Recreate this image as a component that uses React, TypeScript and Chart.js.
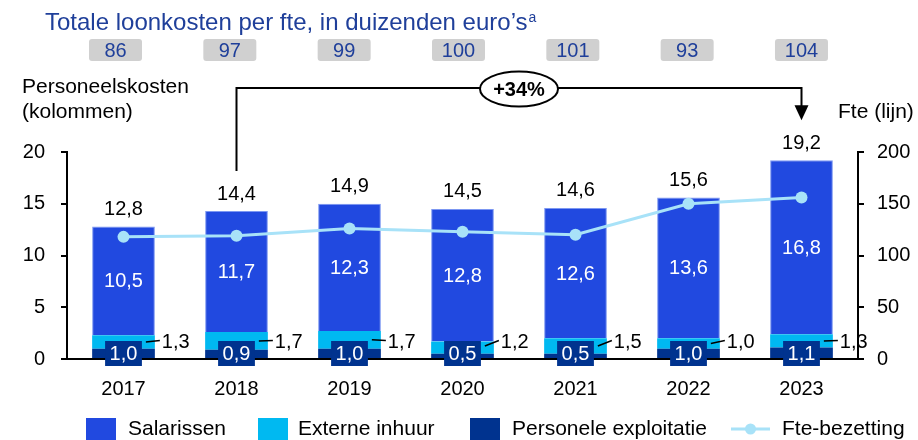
import React, { useEffect, useRef } from 'react';
import { Chart, registerables } from 'chart.js';

Chart.register(...registerables);

// ---------- data ----------
const years = ['2017', '2018', '2019', '2020', '2021', '2022', '2023'];
const salarissen = [10.5, 11.7, 12.3, 12.8, 12.6, 13.6, 16.8];
const externeInhuur = [1.3, 1.7, 1.7, 1.2, 1.5, 1.0, 1.3];
const personeleExploitatie = [1.0, 0.9, 1.0, 0.5, 0.5, 1.0, 1.1];
const totalen = [12.8, 14.4, 14.9, 14.5, 14.6, 15.6, 19.2];
const fteBezetting = [118, 119, 126, 123, 120, 150, 156];
const loonkostenPerFte = [86, 97, 99, 100, 101, 93, 104];
const leftTicks = [0, 5, 10, 15, 20];
const rightTicks = [0, 50, 100, 150, 200];
const groeiLabel = '+34%';
const titleText = 'Totale loonkosten per fte, in duizenden euro’s';
const titleSup = 'a';
const leftAxisTitle = ['Personeelskosten', '(kolommen)'];
const rightAxisTitle = 'Fte (lijn)';

// ---------- styles ----------
const FONT = '"Liberation Sans", Arial, Helvetica, sans-serif';
const C_SAL = '#2149E0';
const C_SAL_BORDER = '#7C97F2';
const C_EXT = '#00B9F1';
const C_PERS = '#00338F';
const C_FTE = '#A8E2F8';
const C_TITLE = '#1F3F9A';
const C_GREY = '#D0D0D0';

const fmt = (v: number) => v.toFixed(1).replace('.', ',');

const overlayPlugin = {
  id: 'overlay',
  afterDraw(chart: any) {
    const ctx: CanvasRenderingContext2D = chart.ctx;
    const ds = chart.data.datasets;
    const idx = (label: string) => ds.findIndex((d: any) => d.label === label);
    const salMeta = chart.getDatasetMeta(idx('Salarissen'));
    const extMeta = chart.getDatasetMeta(idx('Externe inhuur'));
    const persMeta = chart.getDatasetMeta(idx('Personele exploitatie'));

    ctx.save();

    // title
    ctx.textAlign = 'left';
    ctx.textBaseline = 'alphabetic';
    ctx.fillStyle = C_TITLE;
    ctx.font = `24px ${FONT}`;
    ctx.fillText(titleText, 45, 30);
    const tw = ctx.measureText(titleText).width;
    ctx.font = `14px ${FONT}`;
    ctx.fillText(titleSup, 45 + tw + 1, 22);

    // grey boxes with loonkosten per fte
    ctx.font = `20px ${FONT}`;
    ctx.textAlign = 'center';
    ctx.textBaseline = 'middle';
    loonkostenPerFte.forEach((v, i) => {
      const el = salMeta.data[i];
      const x = el.x - 8 + i * 1.33;
      ctx.fillStyle = C_GREY;
      ctx.beginPath();
      (ctx as any).roundRect(x - 26.5, 39, 53, 22, 3);
      ctx.fill();
      ctx.fillStyle = C_TITLE;
      ctx.fillText(String(v), x, 51);
    });

    // axis titles
    ctx.fillStyle = '#000';
    ctx.font = `21px ${FONT}`;
    ctx.textAlign = 'left';
    ctx.textBaseline = 'alphabetic';
    ctx.fillText(leftAxisTitle[0], 22, 92.5);
    ctx.fillText(leftAxisTitle[1], 22, 118);
    ctx.fillText(rightAxisTitle, 838, 118);

    // bracket 2018 -> 2023
    const a = salMeta.data[1];
    const b = salMeta.data[6];
    const yTop = 88;
    const tipY = b.y - 40;
    ctx.strokeStyle = '#000';
    ctx.lineWidth = 2;
    ctx.beginPath();
    ctx.moveTo(a.x, a.y - 40);
    ctx.lineTo(a.x, yTop);
    ctx.lineTo(b.x, yTop);
    ctx.lineTo(b.x, tipY - 14);
    ctx.stroke();
    ctx.fillStyle = '#000';
    ctx.beginPath();
    ctx.moveTo(b.x - 7, tipY - 15);
    ctx.lineTo(b.x + 7, tipY - 15);
    ctx.lineTo(b.x, tipY);
    ctx.closePath();
    ctx.fill();
    const ex = (a.x + b.x) / 2;
    ctx.beginPath();
    ctx.ellipse(ex, yTop + 1, 39, 17.5, 0, 0, Math.PI * 2);
    ctx.fillStyle = '#fff';
    ctx.fill();
    ctx.stroke();
    ctx.fillStyle = '#000';
    ctx.font = `bold 20px ${FONT}`;
    ctx.textAlign = 'center';
    ctx.textBaseline = 'middle';
    ctx.fillText(groeiLabel, ex, yTop + 2);

    // totals above bars
    ctx.font = `20px ${FONT}`;
    totalen.forEach((v, i) => {
      const el = salMeta.data[i];
      ctx.fillStyle = '#000';
      ctx.fillText(fmt(v), el.x, el.y - 17);
    });

    // salarissen values inside
    salarissen.forEach((v, i) => {
      const el = salMeta.data[i];
      ctx.fillStyle = '#fff';
      ctx.fillText(fmt(v), el.x, (el.y + el.base) / 2 + 1);
    });

    // externe inhuur labels to the right with leader
    externeInhuur.forEach((v, i) => {
      const el = extMeta.data[i];
      const right = el.x + el.width / 2;
      const midY = (el.y + el.base) / 2;
      ctx.strokeStyle = '#000';
      ctx.lineWidth = 1.5;
      ctx.beginPath();
      ctx.moveTo(right - 9, Math.min(midY, 346));
      ctx.lineTo(right + 5, 340.5);
      ctx.stroke();
      ctx.fillStyle = '#000';
      ctx.textAlign = 'left';
      ctx.fillText(fmt(v), right + 7, 342);
    });

    // personele exploitatie boxed labels
    ctx.textAlign = 'center';
    personeleExploitatie.forEach((v, i) => {
      const el = persMeta.data[i];
      const t = fmt(v);
      const w = ctx.measureText(t).width + 9;
      const cy = el.base - 4.5;
      ctx.fillStyle = C_PERS;
      ctx.fillRect(el.x - w / 2, cy - 12.5, w, 25);
      ctx.fillStyle = '#fff';
      ctx.fillText(t, el.x, cy + 1);
    });

    // legend
    ctx.font = `21px ${FONT}`;
    ctx.textAlign = 'left';
    ctx.textBaseline = 'middle';
    const legendY = 429;
    const boxes = [
      { label: 'Salarissen', color: C_SAL, x: 86, tx: 128 },
      { label: 'Externe inhuur', color: C_EXT, x: 258, tx: 298 },
      { label: 'Personele exploitatie', color: C_PERS, x: 470, tx: 512 },
    ];
    boxes.forEach((bx) => {
      ctx.fillStyle = bx.color;
      ctx.fillRect(bx.x, 418, 30, 30);
      ctx.fillStyle = '#000';
      ctx.fillText(bx.label, bx.tx, legendY);
    });
    ctx.strokeStyle = C_FTE;
    ctx.lineWidth = 3;
    ctx.beginPath();
    ctx.moveTo(731, legendY);
    ctx.lineTo(770, legendY);
    ctx.stroke();
    ctx.fillStyle = C_FTE;
    ctx.beginPath();
    ctx.arc(750.5, legendY, 5.5, 0, Math.PI * 2);
    ctx.fill();
    ctx.fillStyle = '#000';
    ctx.fillText('Fte-bezetting', 782, legendY);

    ctx.restore();
  },
};

export default function App() {
  const ref = useRef<HTMLCanvasElement | null>(null);

  useEffect(() => {
    document.body.style.margin = '0';
    const canvas = ref.current;
    if (!canvas) return;
    const chart = new Chart(canvas, {
      type: 'bar',
      data: {
        labels: years,
        datasets: [
          {
            type: 'line',
            label: 'Fte-bezetting',
            data: fteBezetting,
            yAxisID: 'y1',
            borderColor: C_FTE,
            backgroundColor: C_FTE,
            borderWidth: 3,
            pointRadius: 6,
            pointBackgroundColor: C_FTE,
            pointBorderWidth: 0,
            order: 0,
          } as any,
          {
            label: 'Personele exploitatie',
            data: personeleExploitatie,
            backgroundColor: C_PERS,
            yAxisID: 'y',
            stack: 's',
            order: 1,
          },
          {
            label: 'Externe inhuur',
            data: externeInhuur,
            backgroundColor: C_EXT,
            yAxisID: 'y',
            stack: 's',
            order: 1,
          },
          {
            label: 'Salarissen',
            data: salarissen,
            backgroundColor: C_SAL,
            borderColor: C_SAL_BORDER,
            borderWidth: 1,
            yAxisID: 'y',
            stack: 's',
            order: 1,
          },
        ],
      },
      options: {
        responsive: false,
        animation: false,
        devicePixelRatio: 1,
        events: [],
        layout: { padding: { top: 152, left: 0, right: 0, bottom: 0 } },
        datasets: {
          bar: { categoryPercentage: 1, barPercentage: 0.555 },
        },
        plugins: {
          legend: { display: false },
          tooltip: { enabled: false },
          title: { display: false },
        },
        scales: {
          x: {
            stacked: true,
            grid: { display: false, drawTicks: false },
            border: { display: true, color: '#000', width: 2 },
            ticks: {
              color: '#000',
              font: { family: FONT, size: 20 },
              padding: 18,
              maxRotation: 0,
            },
            afterFit: (s: any) => {
              s.height = 81;
            },
          },
          y: {
            position: 'left',
            stacked: true,
            min: 0,
            max: 20,
            grid: {
              display: true,
              drawOnChartArea: false,
              drawTicks: true,
              tickLength: 6,
              color: '#000',
              lineWidth: 2,
            },
            border: { display: true, color: '#000', width: 2 },
            ticks: {
              color: '#000',
              font: { family: FONT, size: 20 },
              padding: 16,
            },
            afterBuildTicks: (s: any) => {
              s.ticks = leftTicks.map((v) => ({ value: v }));
            },
            afterFit: (s: any) => {
              s.width = 67;
            },
          },
          y1: {
            position: 'right',
            min: 0,
            max: 200,
            grid: {
              display: true,
              drawOnChartArea: false,
              drawTicks: true,
              tickLength: 6,
              color: '#000',
              lineWidth: 2,
            },
            border: { display: true, color: '#000', width: 2 },
            ticks: {
              color: '#000',
              font: { family: FONT, size: 20 },
              padding: 13,
            },
            afterBuildTicks: (s: any) => {
              s.ticks = rightTicks.map((v) => ({ value: v }));
            },
            afterFit: (s: any) => {
              s.width = 60;
            },
          },
        },
      },
      plugins: [overlayPlugin],
    });
    return () => chart.destroy();
  }, []);

  return (
    <div style={{ position: 'absolute', left: 0, top: 0, width: 918, height: 440, background: '#fff' }}>
      <canvas ref={ref} width={918} height={440} style={{ width: 918, height: 440, display: 'block' }} />
    </div>
  );
}
